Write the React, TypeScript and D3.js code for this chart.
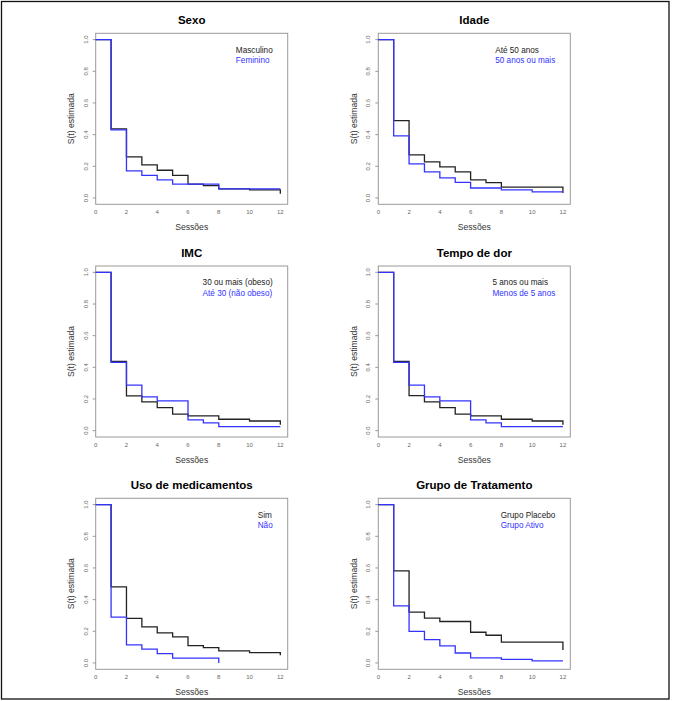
import { useMemo } from 'react';
import * as d3 from 'd3';

// Kaplan-Meier step estimates (time of drop, S(t) after drop)
const sexoMascTimes = [1, 2, 3, 4, 5, 6, 7, 8, 10, 12];
const sexoMascSurv = [0.437, 0.259, 0.209, 0.175, 0.143, 0.087, 0.078, 0.057, 0.051, 0.027];
const sexoFemTimes = [1, 2, 3, 4, 5, 8, 12];
const sexoFemSurv = [0.43, 0.171, 0.143, 0.114, 0.087, 0.057, 0.057];

const idadeAte50Times = [1, 2, 3, 4, 5, 6, 7, 8, 12];
const idadeAte50Surv = [0.489, 0.272, 0.228, 0.196, 0.165, 0.114, 0.097, 0.068, 0.032];
const idade50MaisTimes = [1, 2, 3, 4, 5, 6, 8, 10, 12];
const idade50MaisSurv = [0.392, 0.215, 0.165, 0.127, 0.099, 0.063, 0.051, 0.038, 0.038];

const imcObesoTimes = [1, 2, 3, 4, 5, 6, 8, 10, 12];
const imcObesoSurv = [0.438, 0.22, 0.182, 0.146, 0.104, 0.093, 0.072, 0.061, 0.038];
const imcNaoObesoTimes = [1, 2, 3, 4, 6, 7, 8, 12];
const imcNaoObesoSurv = [0.431, 0.288, 0.214, 0.188, 0.068, 0.049, 0.025, 0.025];

const dor5MaisTimes = [1, 2, 3, 4, 5, 6, 8, 10, 12];
const dor5MaisSurv = [0.437, 0.221, 0.182, 0.146, 0.104, 0.093, 0.072, 0.061, 0.038];
const dorMenos5Times = [1, 2, 3, 4, 6, 7, 8, 12];
const dorMenos5Surv = [0.431, 0.288, 0.214, 0.188, 0.068, 0.049, 0.025, 0.025];

const medSimTimes = [1, 2, 3, 4, 5, 6, 7, 8, 10, 12];
const medSimSurv = [0.481, 0.281, 0.228, 0.19, 0.165, 0.11, 0.097, 0.076, 0.065, 0.049];
const medNaoTimes = [1, 2, 3, 4, 5, 8];
const medNaoSurv = [0.289, 0.114, 0.087, 0.059, 0.03, 0.0];

const grupoPlaceboTimes = [1, 2, 3, 4, 6, 7, 8, 12];
const grupoPlaceboSurv = [0.582, 0.321, 0.283, 0.262, 0.194, 0.175, 0.131, 0.082];
const grupoAtivoTimes = [1, 2, 3, 4, 5, 6, 8, 10, 12];
const grupoAtivoSurv = [0.361, 0.2, 0.148, 0.108, 0.063, 0.032, 0.023, 0.013, 0.013];

const titles = ['Sexo', 'Idade', 'IMC', 'Tempo de dor', 'Uso de medicamentos', 'Grupo de Tratamento'];
const legendBlack = ['Masculino', 'Até 50 anos', '30 ou mais (obeso)', '5 anos ou mais', 'Sim', 'Grupo Placebo'];
const legendBlue = ['Feminino', '50 anos ou mais', 'Até 30 (não obeso)', 'Menos de 5 anos', 'Não', 'Grupo Ativo'];

const blackSeries = [
  [sexoMascTimes, sexoMascSurv],
  [idadeAte50Times, idadeAte50Surv],
  [imcObesoTimes, imcObesoSurv],
  [dor5MaisTimes, dor5MaisSurv],
  [medSimTimes, medSimSurv],
  [grupoPlaceboTimes, grupoPlaceboSurv],
];
const blueSeries = [
  [sexoFemTimes, sexoFemSurv],
  [idade50MaisTimes, idade50MaisSurv],
  [imcNaoObesoTimes, imcNaoObesoSurv],
  [dorMenos5Times, dorMenos5Surv],
  [medNaoTimes, medNaoSurv],
  [grupoAtivoTimes, grupoAtivoSurv],
];

const xTicks = [0, 2, 4, 6, 8, 10, 12];
const yTicks = [0, 0.2, 0.4, 0.6, 0.8, 1.0];

const W = 675;
const H = 701;
const FONT = "'Liberation Sans', Arial, sans-serif";

const PW = 192;
const PH = 171;
const colX = [95.7, 378.3];
const rowY = [33.3, 266, 498.3];

let ctx: CanvasRenderingContext2D | null = null;
function textWidth(s: string, size: number) {
  if (!ctx) ctx = document.createElement('canvas').getContext('2d');
  if (!ctx) return s.length * size * 0.5;
  ctx.font = `${size}px ${FONT}`;
  return ctx.measureText(s).width;
}

function Panel({ i }: { i: number }) {
  const left = colX[i % 2];
  const top = rowY[Math.floor(i / 2)];
  const x = d3.scaleLinear().domain([0, 12.48]).range([0, PW]);
  const y = d3.scaleLinear().domain([-0.04, 1.04]).range([PH, 0]);
  const line = d3
    .line<[number, number]>()
    .x((d) => x(d[0]))
    .y((d) => y(d[1]))
    .curve(d3.curveStepAfter);

  const toPts = (s: number[][]): [number, number][] => [
    [0, 1],
    ...s[0].map((t, k) => [t, s[1][k]] as [number, number]),
  ];

  const legSize = 8.2;
  const legW = Math.max(textWidth(legendBlack[i], legSize), textWidth(legendBlue[i], legSize));
  const legX = PW - 15 - legW;

  return (
    <g transform={`translate(${left},${top})`}>
      <text x={PW / 2} y={-12.3} textAnchor="middle" dominantBaseline="middle" fontSize={11.5} fontWeight="bold" fill="#000">
        {titles[i]}
      </text>
      <rect x={0} y={0} width={PW} height={PH} fill="none" stroke="#9a9a9a" strokeWidth={1} />
      {yTicks.map((t) => (
        <g key={t} transform={`translate(0,${y(t)})`}>
          <line x1={-3} x2={0} stroke="#9a9a9a" />
          <text transform="translate(-9.5,0) rotate(-90)" textAnchor="middle" dominantBaseline="middle" fontSize={6} fill="#666">
            {t.toFixed(1)}
          </text>
        </g>
      ))}
      {xTicks.map((t) => (
        <text key={t} x={x(t)} y={PH + 8.3} textAnchor="middle" dominantBaseline="middle" fontSize={6} fill="#666">
          {t}
        </text>
      ))}
      <text x={PW / 2} y={PH + 23.3} textAnchor="middle" dominantBaseline="middle" fontSize={8.6} fill="#333">
        Sessões
      </text>
      <text transform={`translate(-24,${PH / 2}) rotate(-90)`} textAnchor="middle" dominantBaseline="middle" fontSize={8.6} fill="#333">
        S(t) estimada
      </text>
      <path d={line(toPts(blackSeries[i])) ?? ''} fill="none" stroke="#222" strokeWidth={1.3} />
      <path d={line(toPts(blueSeries[i])) ?? ''} fill="none" stroke="#3333ff" strokeWidth={1.3} />
      <text x={legX} y={17.3} dominantBaseline="middle" fontSize={legSize} fill="#222">
        {legendBlack[i]}
      </text>
      <text x={legX} y={27.6} dominantBaseline="middle" fontSize={legSize} fill="#3333ff">
        {legendBlue[i]}
      </text>
    </g>
  );
}

export default function App() {
  const panels = useMemo(() => titles.map((_, i) => i), []);
  return (
    <svg
      width={W}
      height={H}
      style={{ position: 'absolute', left: 0, top: 0, background: '#fff' }}
      fontFamily={FONT}
    >
      <rect x={0} y={0} width={W} height={H} fill="#fff" />
      <rect x={1.5} y={1.5} width={667.5} height={697.5} fill="none" stroke="#111" strokeWidth={1.3} />
      {panels.map((i) => (
        <Panel key={i} i={i} />
      ))}
    </svg>
  );
}
